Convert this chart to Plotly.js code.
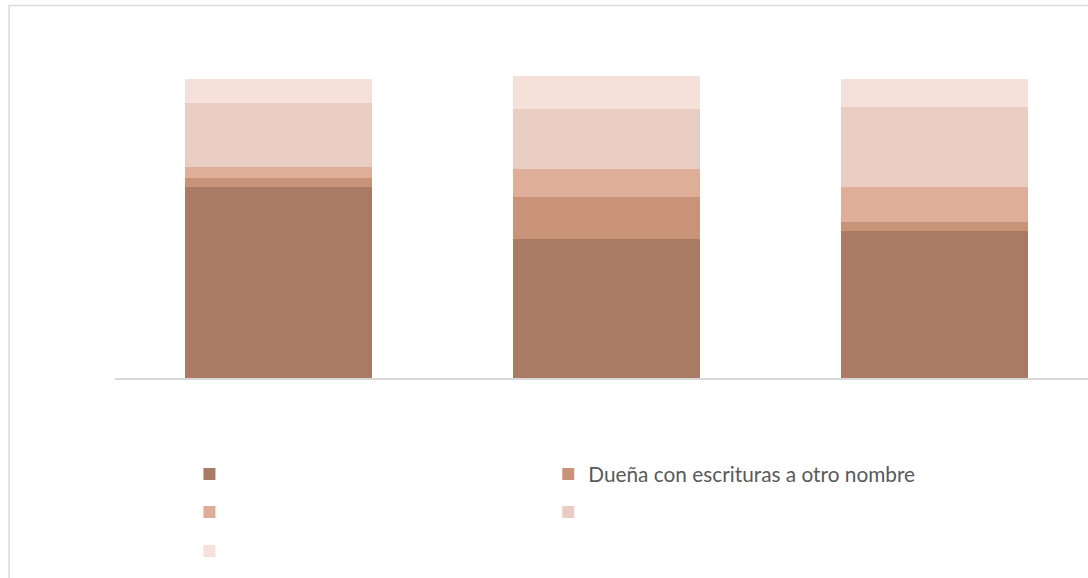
<!DOCTYPE html>
<html>
<head>
<meta charset="utf-8">
<script src="https://cdn.plot.ly/plotly-3.0.1.min.js"></script>
<style>
html,body{margin:0;padding:0;background:#fff;overflow:hidden;}
#chart{width:1088px;height:578px;}
</style>
</head>
<body>
<div id="chart"></div>
<script>
// Categories (their labels are not shown in the chart)
const categories = ['Grupo 1', 'Grupo 2', 'Grupo 3'];

// Series names (only the second one carries visible text)
const seriesNames = ['', 'Dueña con escrituras a otro nombre', '', '', ''];

// Series values (percent of each bar), bottom to top
const serie1 = [63.6, 46.2, 49.0];
const serie2 = [3.0, 14.2, 3.0];
const serie3 = [3.8, 9.3, 11.8];
const serie4 = [21.2, 19.9, 26.6];
const serie5 = [8.1, 11.1, 9.3];

const seriesValues = [serie1, serie2, serie3, serie4, serie5];
const seriesColors = ['#a97a64', '#c9937a', '#dfae99', '#e9cdc3', '#f6e0da'];
const legendIds = ['legend', 'legend2', 'legend3', 'legend4', 'legend5'];

const traces = seriesValues.map((vals, i) => ({
  type: 'bar',
  x: categories,
  y: vals,
  name: seriesNames[i],
  legend: legendIds[i],
  marker: {color: seriesColors[i], line: {width: 0}},
  hoverinfo: 'skip'
}));

const legendFont = {family: 'Lato, "Noto Sans", sans-serif', size: 20.8, color: '#595959'};
const colX = [0.0765, 0.4453];
const rowY = [-0.2924, -0.4076, -0.5258];
function mkLegend(col, row) {
  return {
    orientation: 'h', traceorder: 'normal',
    x: colX[col], xanchor: 'left', y: rowY[row], yanchor: 'middle',
    font: legendFont, bgcolor: 'rgba(0,0,0,0)', borderwidth: 0
  };
}

const layout = {
  width: 1088, height: 578,
  margin: {l: 114.5, r: 0, t: 48, b: 200, pad: 0},
  paper_bgcolor: '#ffffff', plot_bgcolor: '#ffffff',
  barmode: 'stack', bargap: 0.43,
  showlegend: true,
  legend: mkLegend(0, 0),
  legend2: mkLegend(1, 0),
  legend3: mkLegend(0, 1),
  legend4: mkLegend(1, 1),
  legend5: mkLegend(0, 2),
  xaxis: {
    type: 'category', range: [-0.5, 2.468],
    showticklabels: false, ticks: '', showgrid: false, zeroline: false,
    showline: true, linecolor: '#d9d9d9', linewidth: 1.5, fixedrange: true
  },
  yaxis: {
    range: [0, 110], showticklabels: false, ticks: '', showgrid: false,
    zeroline: false, showline: false, fixedrange: true
  },
  shapes: [{
    type: 'rect', xref: 'paper', yref: 'paper',
    x0: -0.1089, x1: 1.2, y0: 1.1288, y1: -0.8,
    line: {color: '#d9d9d9', width: 1.5}, fillcolor: 'rgba(0,0,0,0)', layer: 'below'
  }]
};

Plotly.newPlot('chart', traces, layout, {displayModeBar: false, staticPlot: true});
</script>
</body>
</html>
